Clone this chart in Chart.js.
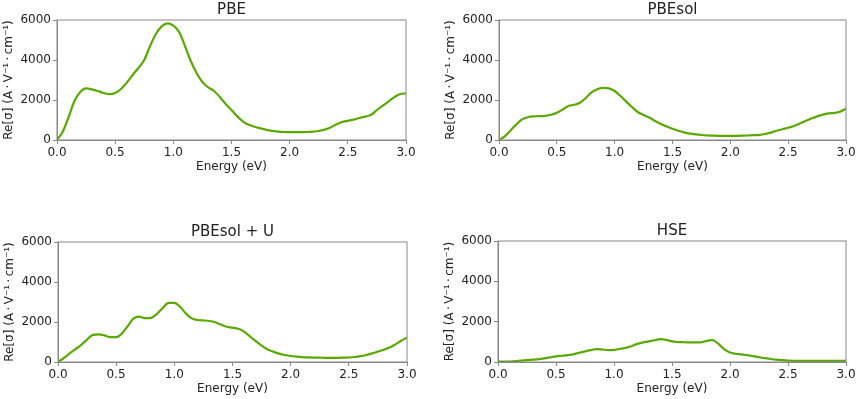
<!DOCTYPE html>
<html>
<head>
<meta charset="utf-8">
<script src="https://cdn.jsdelivr.net/npm/chart.js@4/dist/chart.umd.min.js"></script>
<style>
  html, body { margin: 0; padding: 0; background: #fff; }
  #wrap { position: relative; width: 858px; height: 399px; }
  .panel { position: absolute; width: 429px; }
</style>
</head>
<body>
<div id="wrap">
  <div class="panel" style="left:0;top:0;height:200px"><canvas id="c-pbe"></canvas></div>
  <div class="panel" style="left:429px;top:0;height:200px"><canvas id="c-pbesol"></canvas></div>
  <div class="panel" style="left:0;top:200px;height:199px"><canvas id="c-pbesolu"></canvas></div>
  <div class="panel" style="left:429px;top:200px;height:199px"><canvas id="c-hse"></canvas></div>
</div>
<script>
/* ── 光电导谱 Re[σ] 四种泛函对比 ── */

const energy = [
  0.00, 0.05, 0.10, 0.15, 0.20, 0.25, 0.30, 0.35, 0.40, 0.45,
  0.50, 0.55, 0.60, 0.65, 0.70, 0.75, 0.80, 0.85, 0.90, 0.95,
  1.00, 1.05, 1.10, 1.15, 1.20, 1.25, 1.30, 1.35, 1.40, 1.45,
  1.50, 1.55, 1.60, 1.65, 1.70, 1.75, 1.80, 1.85, 1.90, 1.95,
  2.00, 2.05, 2.10, 2.15, 2.20, 2.25, 2.30, 2.35, 2.40, 2.45,
  2.50, 2.55, 2.60, 2.65, 2.70, 2.75, 2.80, 2.85, 2.90, 2.95, 3.00,
];

const pbe = [
  0, 420, 1150, 1950, 2400, 2580, 2530, 2450, 2350, 2290,
  2350, 2550, 2870, 3250, 3600, 4000, 4700, 5300, 5680, 5830,
  5720, 5400, 4700, 3950, 3350, 2900, 2630, 2450, 2150, 1800,
  1500, 1180, 920, 760, 660, 580, 510, 460, 420, 400,
  390, 390, 390, 400, 420, 450, 520, 620, 780, 900,
  960, 1020, 1100, 1170, 1260, 1500, 1720, 1920, 2140, 2300, 2330,
];

const pbesol = [
  0, 180, 480, 780, 1030, 1140, 1180, 1190, 1210, 1260,
  1360, 1520, 1700, 1760, 1860, 2100, 2380, 2540, 2610, 2580,
  2450, 2200, 1920, 1650, 1400, 1250, 1120, 950, 800, 680,
  560, 460, 380, 320, 280, 250, 230, 220, 210, 210,
  210, 210, 215, 225, 240, 260, 300, 370, 460, 540,
  610, 700, 820, 950, 1070, 1180, 1270, 1330, 1350, 1420, 1560,
];

const pbesolU = [
  0, 200, 430, 640, 860, 1120, 1360, 1380, 1330, 1240,
  1240, 1430, 1800, 2180, 2270, 2190, 2210, 2400, 2700, 2960,
  2960, 2760, 2420, 2180, 2100, 2080, 2050, 1990, 1870, 1760,
  1720, 1660, 1520, 1280, 1040, 820, 640, 520, 420, 350,
  300, 270, 245, 230, 220, 215, 210, 210, 210, 215,
  225, 250, 290, 350, 430, 520, 610, 720, 880, 1060, 1220,
];

const hse = [
  20, 20, 25, 40, 70, 95, 115, 140, 180, 230,
  280, 310, 340, 380, 460, 530, 590, 640, 620, 590,
  600, 650, 700, 780, 900, 970, 1020, 1080, 1130, 1100,
  1020, 990, 980, 975, 970, 975, 1050, 1080, 900, 640,
  470, 410, 380, 340, 290, 240, 190, 150, 115, 90,
  70, 60, 55, 55, 55, 55, 55, 55, 55, 55, 55,
];

const xTicks = [0, 0.5, 1.0, 1.5, 2.0, 2.5, 3.0];
const yTicks = [0, 2000, 4000, 6000];

const LINE = '#5aa800';
const AXIS = '#888888';
const TEXT = '#222222';
const FONT = "'DejaVu Sans', sans-serif";

// 外框: matplotlib 四边 spine
const framePlugin = {
  id: 'frame',
  afterDraw(chart) {
    const { ctx, chartArea: a } = chart;
    ctx.save();
    ctx.strokeStyle = AXIS;
    ctx.lineWidth = 1;
    ctx.strokeRect(a.left, a.top, a.right - a.left, a.bottom - a.top);
    ctx.restore();
  },
};

function makeChart(id, title, values, pad) {
  const canvas = document.getElementById(id);
  const points = energy.map((e, i) => ({ x: e, y: values[i] }));
  return new Chart(canvas.getContext('2d'), {
    type: 'line',
    data: {
      datasets: [{
        data: points,
        borderColor: LINE,
        borderWidth: 2.2,
        pointRadius: 0,
        fill: false,
        tension: 0.4,
        cubicInterpolationMode: 'monotone',
      }],
    },
    options: {
      responsive: true,
      maintainAspectRatio: false,
      animation: false,
      layout: { padding: pad },
      plugins: {
        legend: { display: false },
        tooltip: { enabled: false },
        title: {
          display: true,
          text: title,
          fullSize: false,
          color: TEXT,
          font: { family: FONT, size: 15, weight: 'normal' },
          padding: { top: 1, bottom: 1 },
        },
      },
      scales: {
        x: {
          type: 'linear',
          min: 0,
          max: 3,
          afterBuildTicks: s => { s.ticks = xTicks.map(v => ({ value: v })); },
          afterFit: s => { s.height = 34; },
          grid: { drawOnChartArea: false, color: AXIS, tickLength: 4 },
          border: { color: AXIS },
          ticks: {
            color: TEXT, padding: 2, maxRotation: 0,
            font: { family: FONT, size: 12 },
            callback: v => Number(v).toFixed(1),
          },
          title: {
            display: true, text: 'Energy (eV)', color: TEXT,
            font: { family: FONT, size: 12 }, padding: 0,
          },
        },
        y: {
          min: 0,
          max: 6000,
          afterBuildTicks: s => { s.ticks = yTicks.map(v => ({ value: v })); },
          afterFit: s => { s.width = 57; },
          grid: { drawOnChartArea: false, color: AXIS, tickLength: 4 },
          border: { color: AXIS },
          ticks: {
            color: TEXT, padding: 2,
            font: { family: FONT, size: 12 },
            callback: v => String(v),
          },
          title: {
            display: true, text: 'Re[σ] (A\u2009·\u2009V⁻¹\u2009·\u2009cm⁻¹)', color: TEXT,
            font: { family: FONT, size: 12 }, padding: { top: 2, bottom: 0 },
          },
        },
      },
    },
    plugins: [framePlugin],
  });
}

makeChart('c-pbe', 'PBE', pbe, { left: 0, right: 23, top: 0, bottom: 26 });
makeChart('c-pbesol', 'PBEsol', pbesol, { left: 13, right: 12, top: 0, bottom: 26 });
makeChart('c-pbesolu', 'PBEsol + U', pbesolU, { left: 1, right: 22, top: 22, bottom: 3 });
makeChart('c-hse', 'HSE', hse, { left: 12, right: 12, top: 21, bottom: 3 });
</script>
</body>
</html>
